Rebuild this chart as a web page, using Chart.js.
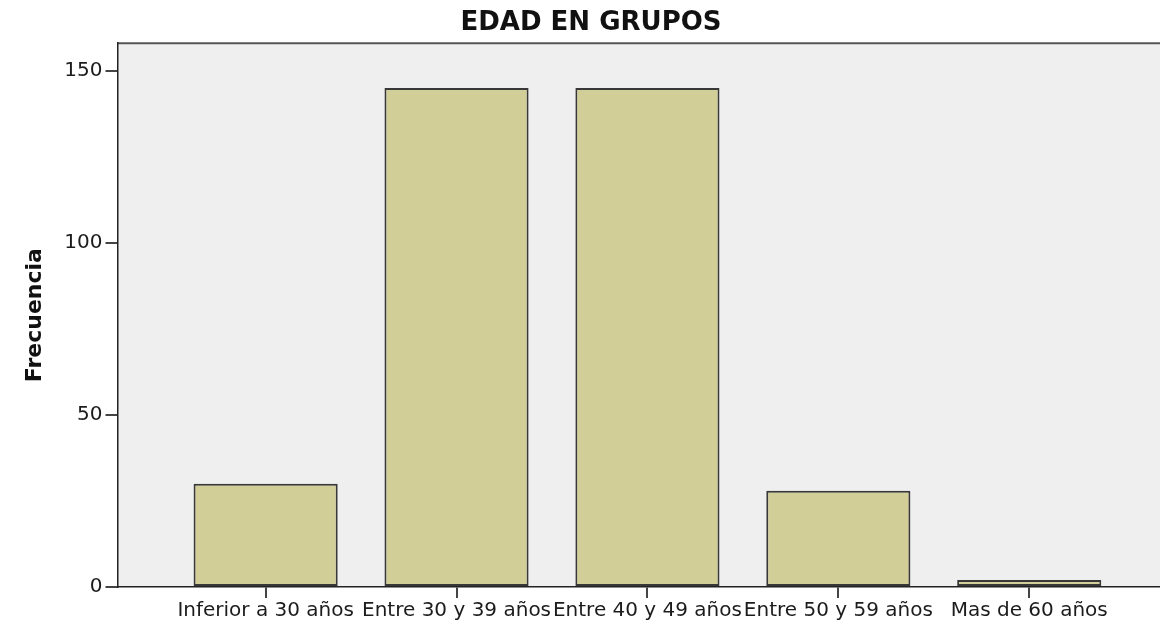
<!DOCTYPE html>
<html>
<head>
<meta charset="utf-8">
<script src="https://cdn.jsdelivr.net/npm/chart.js@4/dist/chart.umd.min.js"></script>
<style>
html,body{margin:0;padding:0;background:#fff;}
canvas{display:block;}
</style>
</head>
<body>
<canvas id="c" width="1160" height="621"></canvas>
<script>
const categories = ["Inferior a 30 años", "Entre 30 y 39 años", "Entre 40 y 49 años", "Entre 50 y 59 años", "Mas de 60 años"];
const frecuencia = [30, 145, 145, 28, 2];
const yTicks = [0, 50, 100, 150];
const chartTitle = "EDAD EN GRUPOS";
const yTitle = "Frecuencia";

const points = categories.map((c, i) => ({x: i, y: frecuencia[i]}));

const plotBg = {
  id: 'plotBg',
  beforeDraw(chart) {
    const {ctx, chartArea: a} = chart;
    ctx.save();
    ctx.fillStyle = '#efefef';
    ctx.fillRect(a.left, a.top, a.right - a.left, a.bottom - a.top);
    ctx.strokeStyle = '#555';
    ctx.lineWidth = 2;
    ctx.beginPath();
    ctx.moveTo(a.left, a.top);
    ctx.lineTo(a.right, a.top);
    ctx.stroke();
    ctx.restore();
  }
};

new Chart(document.getElementById('c'), {
  type: 'bar',
  data: {
    datasets: [{
      data: points,
      backgroundColor: '#d2ce98',
      borderColor: '#383838',
      borderWidth: 2,
      borderSkipped: false,
      categoryPercentage: 1,
      barPercentage: 0.755
    }]
  },
  options: {
    responsive: false,
    animation: false,
    layout: {padding: {left: 22, right: 0, top: 0, bottom: 0}},
    plugins: {
      legend: {display: false},
      tooltip: {enabled: false},
      title: {
        display: true,
        text: chartTitle,
        color: '#111',
        font: {family: 'DejaVu Sans', size: 26, weight: 'bold'},
        padding: {top: 8, bottom: 4}
      }
    },
    scales: {
      x: {
        type: 'linear',
        offset: false,
        min: -0.776,
        max: 4.685,
        afterBuildTicks(s) { s.ticks = categories.map((c, i) => ({value: i})); },
        afterFit(s) { s.height = 34; },
        ticks: {
          autoSkip: false, maxRotation: 0, minRotation: 0,
          padding: 1,
          color: '#1c1c1c',
          font: {family: 'DejaVu Sans', size: 20},
          callback: (v) => categories[v]
        },
        grid: {offset: false, drawOnChartArea: false, drawTicks: true, tickLength: 11, color: '#444', lineWidth: 2},
        border: {display: true, color: '#222', width: 1.5}
      },
      y: {
        min: 0,
        max: 158,
        afterBuildTicks(s) { s.ticks = yTicks.map(v => ({value: v})); },
        afterFit(s) { s.width = 95.5; },
        ticks: {
          padding: 3,
          color: '#1c1c1c',
          font: {family: 'DejaVu Sans', size: 20}
        },
        grid: {drawOnChartArea: false, drawTicks: true, tickLength: 12, color: '#444', lineWidth: 2},
        border: {display: true, color: '#222', width: 1.5},
        title: {
          display: true,
          text: yTitle,
          color: '#111',
          font: {family: 'DejaVu Sans', size: 22, weight: 'bold'},
          padding: {top: 0, bottom: 0}
        }
      }
    }
  },
  plugins: [plotBg]
});
</script>
</body>
</html>
